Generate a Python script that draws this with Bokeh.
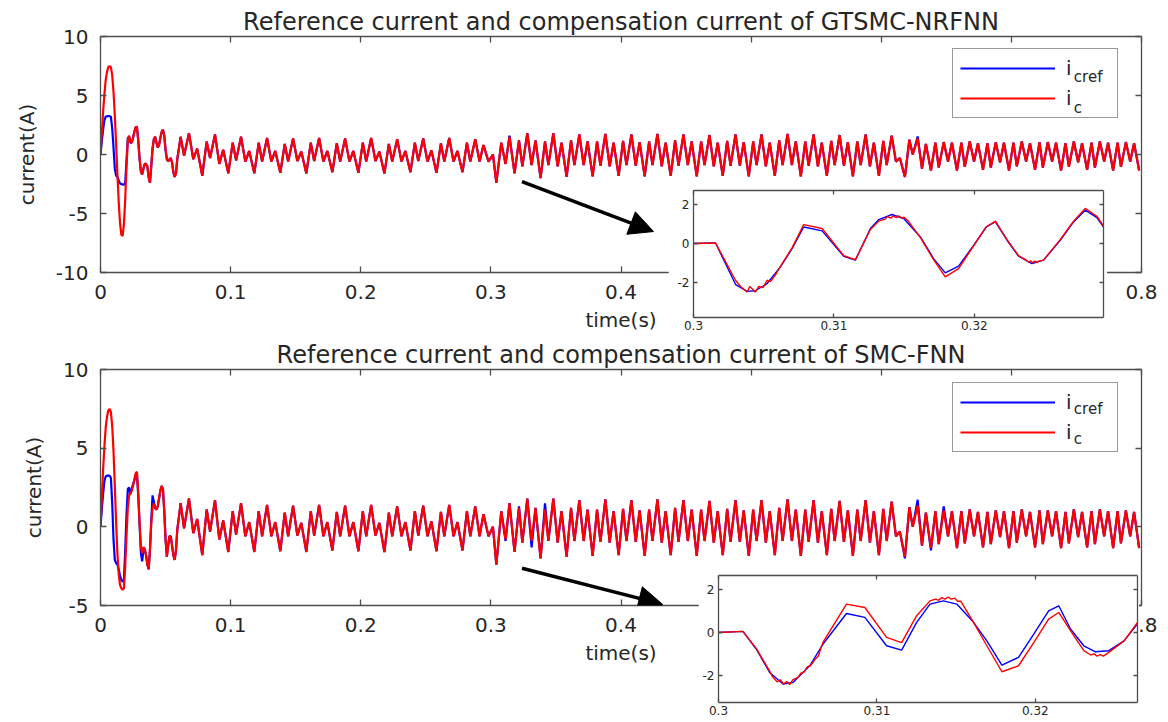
from bokeh.plotting import figure
from bokeh.models import (Range1d, LinearAxis, FixedTicker, CustomJSTickFormatter,
                          Legend, LegendItem, Label, Arrow, NormalHead)
from bokeh.layouts import column
from bokeh.embed import file_html
from bokeh.resources import INLINE

FONT = "DejaVu Sans"
TXT = "#262626"
AX = "#4d4d4d"
BLUE = "#0000ff"
RED = "#ff0000"

# ------------------------------------------------------------------ data
titles = ["Reference current and compensation current of GTSMC-NRFNN",
          "Reference current and compensation current of SMC-FNN"]
x_ticks = [0, 0.1, 0.2, 0.3, 0.4, 0.5, 0.6, 0.7, 0.8]
top_y_ticks = [-10, -5, 0, 5, 10]
bot_y_ticks = [-5, 0, 5, 10]
inset_x_ticks = [0.3, 0.31, 0.32]
inset_y_ticks = [-2, 0, 2]

# start-up transient, one value per millisecond (0 .. 59 ms)
trans_t_ms = list(range(60))
top_ic_trans = [0, 1.8, 3.6, 5.1, 6.3, 7.0, 7.4, 7.5, 7.4, 6.7,
                5.3, 3.3, 0.9, -1.7, -4.0, -5.8, -6.8, -6.9, -5.9, -3.8,
                -1.0, 1.2, 1.6, 1.1, 1.0, 1.4, 1.9, 2.3, 2.35, 1.2,
                -0.3, -1.4, -1.7, -1.2, -0.8, -0.8, -1.0, -1.9, -2.4, -1.0,
                0.5, 1.3, 1.5, 1.0, 0.6, 0.8, 1.4, 1.9, 2.1, 1.6,
                0.4, -0.4, -0.6, -0.4, -0.3, -0.7, -1.5, -1.9, -1.6, -0.4]
top_cref_trans = [0, 1.1, 2.1, 2.9, 3.2, 3.25, 3.25, 3.25, 3.2, 2.2,
                  0.6, -1.2, -1.8, -1.9, -2.2, -2.45, -2.5, -2.55, -2.55, -2.4,
                  -0.5, 1.4, 1.5, 1.0, 1.0, 1.4, 1.9, 2.3, 2.35, 1.2,
                  -0.3, -1.4, -1.7, -1.2, -0.8, -0.8, -1.0, -1.9, -2.4, -1.0,
                  0.5, 1.3, 1.5, 1.0, 0.6, 0.8, 1.4, 1.9, 2.1, 1.6,
                  0.4, -0.4, -0.6, -0.4, -0.3, -0.7, -1.5, -1.9, -1.6, -0.4]
bot_ic_trans = [0, 1.8, 3.6, 5.1, 6.3, 7.0, 7.4, 7.5, 7.3, 6.4,
                4.8, 2.6, 0.3, -1.7, -3.0, -3.7, -3.9, -4.0, -3.9, -2.5,
                -0.5, 1.2, 2.0, 2.1, 2.3, 2.6, 3.0, 3.4, 3.5, 2.2,
                0.3, -1.2, -1.7, -1.3, -1.4, -1.8, -2.4, -2.7, -1.5, 0.2,
                1.2, 1.5, 1.2, 1.1, 1.3, 1.8, 2.3, 2.6, 2.4, 1.0,
                -0.8, -1.9, -1.2, -0.6, -0.6, -1.2, -1.8, -2.1, -1.5, -0.2]
bot_cref_trans = [0, 1.1, 2.1, 2.9, 3.2, 3.25, 3.25, 3.25, 3.1, 1.5,
                  -0.8, -2.1, -2.3, -2.4, -2.7, -3.1, -3.4, -3.5, -3.3, -1.5,
                  0.8, 2.4, 2.5, 2.1, 2.4, 2.7, 2.95, 3.2, 3.3, 2.0,
                  0.2, -1.6, -2.2, -1.5, -1.4, -1.8, -2.4, -2.7, -1.5, 0.4,
                  2.0, 1.6, 1.2, 1.1, 1.3, 1.8, 2.3, 2.6, 2.4, 1.0,
                  -0.8, -1.9, -1.2, -0.6, -0.6, -1.2, -1.8, -2.1, -1.5, -0.2]

# after the start-up: extrema of every 20 ms cycle (peak, trough, peak, trough, peak, trough)
cycle_phase_ms = [1.6, 4.2, 8.0, 11.3, 14.3, 18.2]
first_cycle = 3
cycle_rows = [
    [1.5, -0.1, 1.8, -0.4, 0.5, -1.8],      # 0.06 s
    [1.1, -0.3, 1.7, -0.8, 0.4, -1.6],
    [1.0, -0.5, 1.5, -0.6, 0.3, -1.6],      # 0.10 s
    [1.0, -0.6, 1.4, -0.6, 0.3, -1.55],
    [0.9, -0.6, 1.35, -0.55, 0.25, -1.6],
    [1.0, -0.55, 1.4, -0.6, 0.3, -1.5],
    [0.95, -0.6, 1.35, -0.6, 0.3, -1.55],
    [1.0, -0.6, 1.4, -0.55, 0.25, -1.6],    # 0.20 s
    [0.9, -0.6, 1.3, -0.6, 0.3, -1.5],
    [1.0, -0.55, 1.35, -0.6, 0.35, -1.55],
    [0.95, -0.6, 1.4, -0.6, 0.3, -1.5],
    [1.0, -0.6, 1.3, -0.6, 0.8, -0.6],
    [0.0, -2.4, 1.0, -0.8, 1.5, -1.6],      # 0.30 s
    [1.2, -1.0, 1.8, -0.9, 1.2, -2.0],
    [1.1, -0.9, 1.8, -1.0, 1.0, -1.9],
    [1.2, -0.9, 1.7, -0.9, 1.1, -1.85],
    [1.1, -0.95, 1.75, -1.0, 1.0, -1.8],
    [1.15, -0.9, 1.7, -0.95, 1.05, -1.85],  # 0.40 s
    [1.1, -0.9, 1.75, -1.0, 1.0, -1.8],
    [1.2, -0.95, 1.7, -0.9, 1.1, -1.85],
    [1.1, -0.9, 1.65, -1.0, 1.0, -1.8],
    [1.15, -0.95, 1.7, -0.95, 1.05, -1.85],
    [1.1, -0.9, 1.7, -1.0, 1.0, -1.8],      # 0.50 s
    [1.2, -0.9, 1.75, -0.9, 1.1, -1.85],
    [1.1, -0.95, 1.7, -1.0, 1.0, -1.8],
    [1.15, -0.9, 1.65, -0.95, 1.05, -1.85],
    [1.1, -0.9, 1.7, -1.0, 1.0, -1.8],
    [1.15, -0.9, 1.6, -0.6, -0.3, -1.9],    # 0.60 s
    [1.25, 0.0, 1.35, -1.2, 0.9, -1.35],
    [1.0, -1.1, 1.05, -0.6, 1.0, -1.35],
    [1.0, -1.05, 1.1, -0.6, 0.95, -1.3],
    [0.95, -1.1, 1.05, -0.65, 1.0, -1.35],
    [1.0, -1.0, 1.1, -0.6, 0.95, -1.3],     # 0.70 s
    [1.05, -1.1, 1.05, -0.6, 1.0, -1.35],
    [0.95, -1.05, 1.1, -0.65, 0.95, -1.3],
    [1.0, -1.1, 1.1, -0.6, 1.0, -1.35],
    [1.0, -1.05, 1.05, -0.6, 0.95, -1.35],  # 0.78 s
]
# extrema where the reference current differs from the compensation current
top_cref_over = {(15, 4): 1.6, (31, 2): 1.53}
bot_cref_over = {(15, 3): -0.9, (16, 0): 1.3, (16, 3): -1.3, (17, 0): 1.5,
                 (30, 5): -2.0, (31, 2): 1.72, (31, 5): -1.5, (32, 2): 1.3}

# zoomed windows (0.30 s .. 0.33 s)
ti_top_cref_t = [0.3000, 0.30157, 0.3030, 0.30382, 0.30441, 0.30524, 0.30619, 0.30702,
                 0.30785, 0.30916, 0.3107, 0.31153, 0.3126, 0.3132, 0.31414, 0.31497,
                 0.31616, 0.3171, 0.31793, 0.31888, 0.31995, 0.32085, 0.3215, 0.32233,
                 0.32315, 0.3241, 0.32493, 0.32612, 0.32707, 0.3279, 0.32873, 0.3292]
ti_top_cref_v = [0.0, 0.03, -2.1, -2.45, -2.42, -2.05, -1.2, -0.26,
                 0.85, 0.65, -0.65, -0.85, 0.77, 1.23, 1.49, 1.28,
                 0.34, -0.77, -1.5, -1.16, -0.09, 0.85, 1.11, 0.17,
                 -0.65, -1.03, -0.85, 0.17, 1.11, 1.71, 1.33, 0.85]
ti_top_ic_t = [0.3000, 0.30157, 0.30299, 0.30335, 0.30382, 0.30401, 0.30441, 0.30465,
               0.30496, 0.30524, 0.30548, 0.30584, 0.30608, 0.30702, 0.30785, 0.30916,
               0.3107, 0.31153, 0.3126, 0.3132, 0.31365, 0.3138, 0.31405, 0.3142,
               0.31445, 0.3146, 0.31485, 0.3150, 0.3153, 0.31616, 0.3171, 0.31793,
               0.31888, 0.31995, 0.32085, 0.3215, 0.32233, 0.32315, 0.3237, 0.32385,
               0.3240, 0.32415, 0.3243, 0.32445, 0.3246, 0.32493, 0.32612, 0.32707,
               0.3279, 0.32873, 0.3292]
ti_top_ic_v = [0.0, 0.03, -1.88, -2.2, -2.48, -2.2, -2.48, -2.2,
               -2.25, -1.88, -1.95, -1.6, -1.3, -0.22, 0.97, 0.77,
               -0.62, -0.83, 0.72, 1.15, 1.25, 1.38, 1.3, 1.42,
               1.33, 1.42, 1.3, 1.35, 1.15, 0.3, -0.82, -1.71,
               -1.28, -0.12, 0.85, 1.15, 0.2, -0.62, -0.85, -0.95,
               -0.88, -0.98, -0.9, -0.98, -0.9, -0.85, 0.2, 1.15,
               1.8, 1.4, 0.9]

ti_bot_cref_t = [0.3000, 0.30154, 0.30239, 0.30323, 0.30407, 0.3047, 0.30576, 0.3066,
                 0.30808, 0.30924, 0.31061, 0.31156, 0.31251, 0.31335, 0.3142, 0.31504,
                 0.3161, 0.31694, 0.31789, 0.31894, 0.3199, 0.32084, 0.32148, 0.32222,
                 0.32306, 0.3238, 0.32464, 0.3256, 0.32644]
ti_bot_cref_v = [0.0, 0.05, -0.78, -1.86, -2.4, -2.33, -1.55, -0.54,
                 0.88, 0.70, -0.62, -0.82, 0.47, 1.32, 1.47, 1.32,
                 0.47, -0.39, -1.52, -1.16, -0.08, 1.0, 1.24, 0.16,
                 -0.62, -0.9, -0.85, -0.39, 0.39]
ti_bot_ic_t = [0.3000, 0.30154, 0.30239, 0.30323, 0.3034, 0.3037, 0.3039, 0.3041,
               0.3043, 0.3045, 0.3047, 0.3050, 0.3052, 0.3054, 0.3056, 0.3058,
               0.3061, 0.3063, 0.3066, 0.30808, 0.30924, 0.31061, 0.31156, 0.31251,
               0.31335, 0.3137, 0.3139, 0.3141, 0.3143, 0.3145, 0.3147, 0.3149,
               0.3151, 0.3153, 0.3161, 0.31694, 0.31789, 0.31894, 0.3199, 0.32084,
               0.32148, 0.32222, 0.32306, 0.3235, 0.3237, 0.3239, 0.3241, 0.3243,
               0.3245, 0.32464, 0.3256, 0.32644]
ti_bot_ic_v = [0.0, 0.05, -0.75, -1.8, -2.05, -2.3, -2.2, -2.4,
               -2.28, -2.42, -2.2, -2.1, -1.9, -1.85, -1.6, -1.55,
               -1.25, -1.1, -0.45, 1.32, 1.16, -0.23, -0.47, 0.78,
               1.47, 1.55, 1.5, 1.62, 1.55, 1.65, 1.55, 1.6,
               1.45, 1.45, 0.47, -0.62, -1.83, -1.55, -0.47, 0.62,
               0.93, 0.08, -0.85, -1.05, -1.0, -1.1, -1.03, -1.1,
               -1.0, -0.93, -0.39, 0.45]


def build(trans, overrides):
    t = [ms / 1000.0 for ms in trans_t_ms]
    v = list(trans)
    for i, row in enumerate(cycle_rows):
        c = first_cycle + i
        for k, (ph, val) in enumerate(zip(cycle_phase_ms, row)):
            t.append(0.02 * c + ph / 1000.0)
            v.append(overrides.get((c, k), val))
    return t, v


fmt = CustomJSTickFormatter(code="return String(parseFloat(tick.toFixed(4)));")


def style_axis(ax, ticks, fs, tick_len, standoff, label=None):
    ax.ticker = FixedTicker(ticks=ticks)
    ax.formatter = fmt
    ax.axis_line_color = AX
    ax.axis_line_width = 1.3
    ax.major_tick_line_color = AX
    ax.major_tick_line_width = 1.3
    ax.major_tick_in = tick_len
    ax.major_tick_out = 0
    ax.minor_tick_line_color = None
    ax.major_label_text_font = FONT
    ax.major_label_text_font_size = fs
    ax.major_label_text_color = TXT
    ax.major_label_standoff = standoff
    if label is not None:
        ax.axis_label = label
        ax.axis_label_text_font = FONT
        ax.axis_label_text_font_size = "20px"
        ax.axis_label_text_font_style = "normal"
        ax.axis_label_text_color = TXT


def box_axes(p, xticks, yticks, tick_len):
    for loc, ticks in (("above", xticks), ("right", yticks)):
        a = LinearAxis()
        style_axis(a, ticks, "0px", tick_len, 0)
        a.major_label_text_alpha = 0
        p.add_layout(a, loc)


def main_fig(title, yr, yticks, height, bt, bb):
    p = figure(width=1168, height=height, x_range=Range1d(0, 0.8), y_range=Range1d(*yr),
               output_backend="svg", toolbar_location=None,
               min_border_left=100, min_border_right=27, min_border_top=bt, min_border_bottom=bb)
    p.title.text = title
    p.title.align = "center"
    p.title.text_font = FONT
    p.title.text_font_size = "24px"
    p.title.text_font_style = "normal"
    p.title.text_color = TXT
    p.title.standoff = 2
    p.xgrid.visible = False
    p.ygrid.visible = False
    p.outline_line_color = None
    p.background_fill_color = "white"
    p.border_fill_color = "white"
    style_axis(p.xaxis[0], x_ticks, "20px", 6, 12, "time(s)")
    p.xaxis[0].axis_label_standoff = 6
    style_axis(p.yaxis[0], yticks, "20px", 6, 12, "current(A)")
    p.yaxis[0].axis_label_standoff = 14
    box_axes(p, x_ticks, yticks, 6)
    return p


def add_legend(p, r_blue, r_red, loc, ylab_sub):
    for txt, y in zip(["cref", "c"], ylab_sub):
        p.add_layout(Label(x=0.748, y=y, text=txt, text_font=FONT, text_font_size="15px",
                           text_color=TXT, text_baseline="middle", text_align="left"))
    leg = Legend(items=[LegendItem(label="i", renderers=[r_blue]),
                        LegendItem(label="i", renderers=[r_red])],
                 location=loc, orientation="vertical")
    leg.label_text_font = FONT
    leg.label_text_font_size = "20px"
    leg.label_text_color = TXT
    leg.glyph_width = 95
    leg.glyph_height = 24
    leg.label_height = 24
    leg.label_width = 44
    leg.label_standoff = 11
    leg.padding = 7
    leg.spacing = 6
    leg.border_line_color = "#333333"
    leg.border_line_width = 1.5
    leg.background_fill_alpha = 0.0   # nothing lies beneath it; lets the subscripts show
    p.add_layout(leg)


# ------------------------------------------------------------------ main plots
p_top = main_fig(titles[0], (-10, 10), top_y_ticks, 337, 36, 65)
p_bot = main_fig(titles[1], (-5, 10), bot_y_ticks, 385, 32, 117)

for p, ic_tr, cref_tr, over, loc, subs, arr in (
        (p_top, top_ic_trans, top_cref_trans, top_cref_over, (852, 154), (6.53, 3.98),
         (0.3239, -2.29, 0.425, -6.53)),
        (p_bot, bot_ic_trans, bot_cref_trans, bot_cref_over, (852, 153), (7.52, 5.6),
         (0.3239, -2.63, 0.432, -4.93))):
    tc, vc = build(cref_tr, over)
    ti, vi = build(ic_tr, {})
    rb = p.line(tc, vc, line_color=BLUE, line_width=2.2)
    rr = p.line(ti, vi, line_color=RED, line_width=2.2)
    add_legend(p, rb, rr, loc, subs)
    x0, y0, x1, y1 = arr
    p.add_layout(Arrow(end=NormalHead(size=24, fill_color="black", line_color="black"),
                       x_start=x0, y_start=y0, x_end=x1, y_end=y1,
                       line_color="black", line_width=3.5))


# ------------------------------------------------------------------ insets
def inset_fig(xr, yr, left, top, w, h, bl, br, bt, bb):
    p = figure(width=w, height=h, x_range=Range1d(*xr), y_range=Range1d(*yr),
               output_backend="svg", toolbar_location=None,
               min_border_left=bl, min_border_right=br, min_border_top=bt, min_border_bottom=bb,
               styles={"position": "absolute", "left": f"{left}px", "top": f"{top}px",
                       "z-index": "10"})
    p.xgrid.visible = False
    p.ygrid.visible = False
    p.outline_line_color = None
    p.background_fill_color = "white"
    p.border_fill_color = "white"
    style_axis(p.xaxis[0], inset_x_ticks, "12px", 4, 3)
    style_axis(p.yaxis[0], inset_y_ticks, "12px", 4, 4)
    box_axes(p, inset_x_ticks, inset_y_ticks, 4)
    return p


in_top = inset_fig((0.3, 0.3292), (-3.79, 2.72), 668, 185, 439, 150, 25, 4, 5, 18)
in_top.line(ti_top_cref_t, ti_top_cref_v, line_color=BLUE, line_width=1.4)
in_top.line(ti_top_ic_t, ti_top_ic_v, line_color=RED, line_width=1.4)

in_bot = inset_fig((0.3, 0.32645), (-3.26, 2.65), 698, 570, 441, 152, 20, 2, 5, 20)
in_bot.line(ti_bot_cref_t, ti_bot_cref_v, line_color=BLUE, line_width=1.4)
in_bot.line(ti_bot_ic_t, ti_bot_ic_v, line_color=RED, line_width=1.4)

main_layout = column(p_top, p_bot, spacing=0)

# separate roots, so the insets keep their own borders (no frame alignment with the main plots)
open("out.html", "w").write(file_html([main_layout, in_top, in_bot], INLINE))
